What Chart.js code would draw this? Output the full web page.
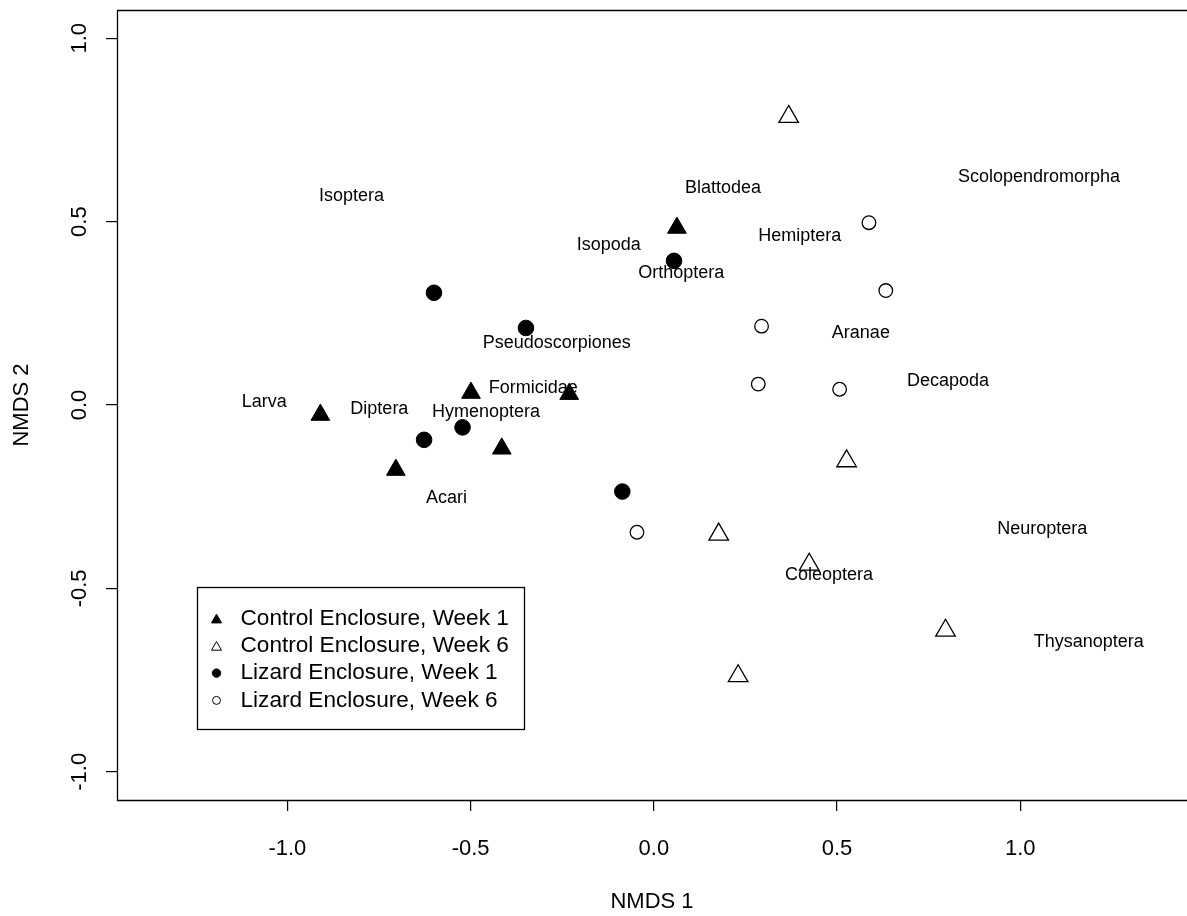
<!DOCTYPE html>
<html>
<head>
<meta charset="utf-8">
<script src="https://cdn.jsdelivr.net/npm/chart.js@4"></script>
<style>
  html, body { margin: 0; padding: 0; background: #fff; }
  #chart { display: block; }
</style>
</head>
<body>
<canvas id="chart" width="1187" height="916"></canvas>
<script>
const FONT = '"Liberation Sans", Arial, sans-serif';

const xTicks = [-1.0, -0.5, 0.0, 0.5, 1.0];
const yTicks = [-1.0, -0.5, 0.0, 0.5, 1.0];

// sample scores
const ctrlW1X = [0.063, -0.910, -0.704, -0.499, -0.231, -0.415];
const ctrlW1Y = [0.483, -0.027, -0.177, 0.033, 0.030, -0.119];
const ctrlW6X = [0.368, 0.526, 0.177, 0.424, 0.796, 0.230];
const ctrlW6Y = [0.786, -0.153, -0.353, -0.435, -0.615, -0.739];
const lizW1X = [-0.600, -0.349, 0.055, -0.627, -0.522, -0.086];
const lizW1Y = [0.306, 0.210, 0.393, -0.095, -0.061, -0.236];
const lizW6X = [0.587, 0.633, 0.294, 0.285, 0.507, -0.046];
const lizW6Y = [0.497, 0.312, 0.215, 0.057, 0.043, -0.347];

// taxa (species scores)
const taxa = ['Isoptera', 'Isopoda', 'Pseudoscorpiones', 'Formicidae', 'Larva', 'Diptera',
  'Hymenoptera', 'Acari', 'Blattodea', 'Hemiptera', 'Orthoptera', 'Aranae', 'Decapoda',
  'Coleoptera', 'Scolopendromorpha', 'Neuroptera', 'Thysanoptera'];
const taxaX = [-0.825, -0.123, -0.265, -0.329, -1.063, -0.749, -0.458, -0.566, 0.189, 0.398,
  0.075, 0.565, 0.803, 0.478, 1.051, 1.060, 1.187];
const taxaY = [0.570, 0.436, 0.168, 0.045, 0.007, -0.012, -0.020, -0.253, 0.591, 0.462,
  0.361, 0.196, 0.066, -0.464, 0.621, -0.338, -0.646];

const groups = ['Control Enclosure, Week 1', 'Control Enclosure, Week 6',
  'Lizard Enclosure, Week 1', 'Lizard Enclosure, Week 6'];

const pts = (xs, ys) => xs.map((x, i) => ({ x: x, y: ys[i] }));

const legendSym = [
  { pointStyle: 'triangle', radius: 5.8, fill: '#000', borderWidth: 1 },
  { pointStyle: 'triangle', radius: 5.8, fill: '#fff', borderWidth: 1 },
  { pointStyle: 'circle', radius: 4.2, fill: '#000', borderWidth: 1 },
  { pointStyle: 'circle', radius: 4, fill: '#fff', borderWidth: 1 }
];

const extras = {
  id: 'extras',
  afterDatasetsDraw(chart) {
    const { ctx, scales: { x, y } } = chart;
    ctx.save();
    ctx.fillStyle = '#000';
    ctx.font = '18px ' + FONT;
    ctx.textAlign = 'center';
    ctx.textBaseline = 'middle';
    taxa.forEach((t, i) => {
      ctx.fillText(t, x.getPixelForValue(taxaX[i]), y.getPixelForValue(taxaY[i]));
    });
    ctx.restore();
  },
  afterDraw(chart) {
    const { ctx, chartArea: a, scales: { x, y } } = chart;
    ctx.save();
    ctx.strokeStyle = '#000';
    ctx.lineWidth = 1.3;
    // plot frame; its right side falls just past the canvas edge
    ctx.beginPath();
    ctx.moveTo(a.right + 1, a.top + 0.5);
    ctx.lineTo(a.left + 0.5, a.top + 0.5);
    ctx.lineTo(a.left + 0.5, a.bottom + 0.5);
    ctx.lineTo(a.right + 1, a.bottom + 0.5);
    ctx.stroke();

    // legend box, top-left corner placed in data units
    const bx = Math.round(x.getPixelForValue(-1.247)) + 0.5;
    const by = Math.round(y.getPixelForValue(-0.497)) + 0.5;
    const bw = 327, bh = 142;
    ctx.fillStyle = '#fff';
    ctx.fillRect(bx, by, bw, bh);
    ctx.strokeRect(bx, by, bw, bh);
    ctx.font = '22.6px ' + FONT;
    ctx.textAlign = 'left';
    ctx.textBaseline = 'middle';
    groups.forEach((g, i) => {
      const cy = by + 31 + i * 27.3;
      const s = legendSym[i];
      ctx.fillStyle = s.fill;
      ctx.strokeStyle = '#000';
      ctx.lineWidth = 1;
      Chart.helpers.drawPoint(ctx, { pointStyle: s.pointStyle, radius: s.radius, rotation: 0, borderWidth: s.borderWidth }, bx + 19, cy + (s.pointStyle === 'triangle' ? 1.5 : 0));
      ctx.fillStyle = '#000';
      ctx.fillText(g, bx + 43, cy);
    });
    ctx.restore();
  }
};

const axisCommon = {
  type: 'linear',
  grid: { drawOnChartArea: false, drawTicks: true, tickLength: 11, color: '#000', lineWidth: 1.2 },
  border: { display: false }
};

new Chart(document.getElementById('chart'), {
  type: 'scatter',
  data: {
    datasets: [
      { label: groups[0], data: pts(ctrlW1X, ctrlW1Y), pointStyle: 'triangle', pointRadius: 10.8,
        backgroundColor: '#000', borderColor: '#000', borderWidth: 1 },
      { label: groups[1], data: pts(ctrlW6X, ctrlW6Y), pointStyle: 'triangle', pointRadius: 11.3,
        backgroundColor: '#fff', borderColor: '#000', borderWidth: 1.3 },
      { label: groups[2], data: pts(lizW1X, lizW1Y), pointStyle: 'circle', pointRadius: 7.8,
        backgroundColor: '#000', borderColor: '#000', borderWidth: 1 },
      { label: groups[3], data: pts(lizW6X, lizW6Y), pointStyle: 'circle', pointRadius: 6.8,
        backgroundColor: '#fff', borderColor: '#000', borderWidth: 1.3 }
    ]
  },
  options: {
    responsive: false,
    animation: false,
    devicePixelRatio: 1,
    layout: { autoPadding: false, padding: { top: 10, right: 0, bottom: 0, left: 0 } },
    plugins: { legend: { display: false }, tooltip: { enabled: false } },
    scales: {
      x: Object.assign({}, axisCommon, {
        min: -1.465, max: 1.455,
        afterBuildTicks: s => { s.ticks = xTicks.map(v => ({ value: v })); },
        afterFit: s => { s.height = 116; s.paddingLeft = 0; s.paddingRight = 0; },
        ticks: { font: { family: FONT, size: 22 }, color: '#000', padding: 25, maxRotation: 0,
          callback: v => v.toFixed(1) },
        title: { display: true, text: 'NMDS 1', color: '#000', font: { family: FONT, size: 22 },
          padding: { top: 0, bottom: 1 } }
      }),
      y: Object.assign({}, axisCommon, {
        min: -1.077, max: 1.077,
        afterBuildTicks: s => { s.ticks = yTicks.map(v => ({ value: v })); },
        afterFit: s => { s.width = 117; s.paddingTop = 0; s.paddingBottom = 0; },
        ticks: { font: { family: FONT, size: 22 }, color: '#000', padding: 7, minRotation: 90,
          maxRotation: 90, crossAlign: 'center', callback: v => v.toFixed(1) },
        title: { display: true, text: 'NMDS 2', color: '#000', font: { family: FONT, size: 22 },
          padding: { top: 9, bottom: 0 } }
      })
    }
  },
  plugins: [extras]
});
</script>
</body>
</html>
